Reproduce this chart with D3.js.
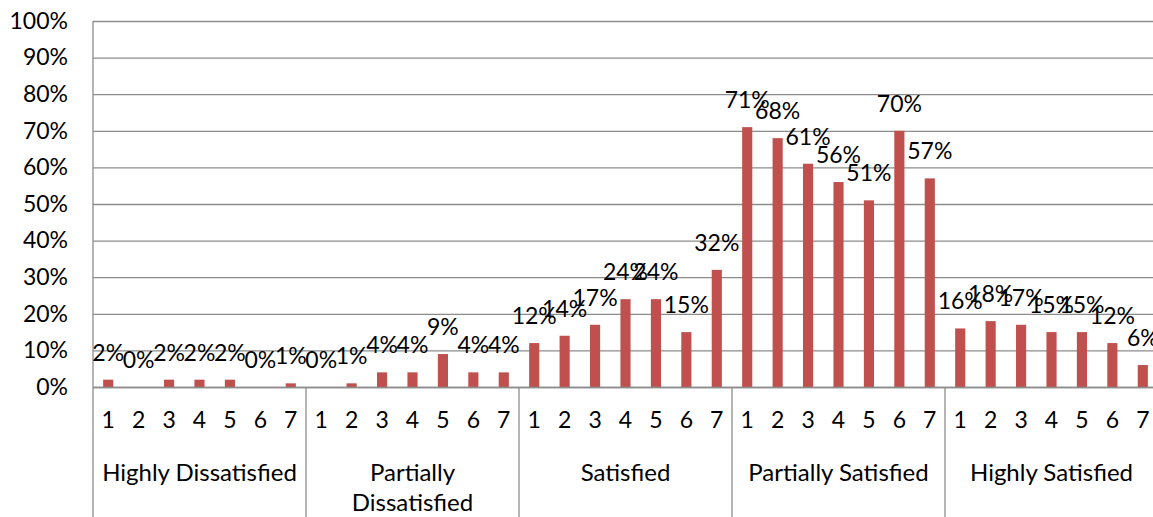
<!DOCTYPE html>
<html>
<head>
<meta charset="utf-8">
<script src="https://cdn.jsdelivr.net/npm/d3@7"></script>
<style>
  body { margin: 0; background: #fff; }
  text { font-family: Lato, "Open Sans", sans-serif; fill: #000; }
</style>
</head>
<body>
<div id="chart"></div>
<script>
// data
const groups = ['Highly Dissatisfied', 'Partially Dissatisfied', 'Satisfied', 'Partially Satisfied', 'Highly Satisfied']
const items = ['1', '2', '3', '4', '5', '6', '7']
const highlyDissatisfied = [2, 0, 2, 2, 2, 0, 1]
const partiallyDissatisfied = [0, 1, 4, 4, 9, 4, 4]
const satisfied = [12, 14, 17, 24, 24, 15, 32]
const partiallySatisfied = [71, 68, 61, 56, 51, 70, 57]
const highlySatisfied = [16, 18, 17, 15, 15, 12, 6]
const yTicks = [0, 10, 20, 30, 40, 50, 60, 70, 80, 90, 100]

const seriesByGroup = [highlyDissatisfied, partiallyDissatisfied, satisfied, partiallySatisfied, highlySatisfied]
const data = []
groups.forEach((g, gi) => {
    items.forEach((it, i) => {
        data.push({key: g + '|' + it, group: g, item: it, value: seriesByGroup[gi][i]})
    })
})

const W = 1153, H = 517
const m = {left: 93, top: 21}
const plotRight = 1158
const plotBottom = 387
const fs = 23

const svg = d3.select('#chart')
    .append('svg')
    .attr('width', W)
    .attr('height', H)

// scales
const xScale = d3.scaleBand()
    .domain(data.map(d => d.key))
    .range([m.left, plotRight])
    .paddingInner(0.667)
    .paddingOuter(0.333)

const gScale = d3.scaleBand()
    .domain(groups)
    .range([m.left, plotRight])
    .padding(0)

const yScale = d3.scaleLinear()
    .domain([0, 100])
    .range([plotBottom, m.top])

const lineColor = '#8c8c8c'

// gridlines
svg.append('g')
    .attr('transform', `translate(${m.left}, 0)`)
    .call(d3.axisLeft(yScale).tickValues(yTicks).tickSize(-(plotRight - m.left)).tickFormat(''))
    .call(g => g.select('.domain').remove())
    .call(g => g.selectAll('line').attr('stroke', lineColor).attr('stroke-width', 1.3))

// y labels
svg.append('g')
    .attr('transform', `translate(${m.left}, 0)`)
    .call(d3.axisLeft(yScale).tickValues(yTicks).tickSize(0).tickPadding(25).tickFormat(d => d + '%'))
    .call(g => g.select('.domain').remove())
    .call(g => g.selectAll('text').attr('font-size', fs).attr('font-family', 'Lato, sans-serif'))

// vertical group dividers + left axis line
const dividers = groups.map(g => gScale(g))
svg.append('line')
    .attr('x1', m.left).attr('x2', m.left)
    .attr('y1', m.top).attr('y2', H)
    .attr('stroke', lineColor).attr('stroke-width', 1.3)
svg.selectAll('.divider')
    .data(dividers.slice(1)).enter()
    .append('line')
    .attr('x1', d => d).attr('x2', d => d)
    .attr('y1', plotBottom).attr('y2', H)
    .attr('stroke', lineColor).attr('stroke-width', 1.3)

// bars
svg.selectAll('rect.bar')
    .data(data).enter()
    .append('rect')
    .attr('class', 'bar')
    .attr('x', d => xScale(d.key))
    .attr('y', d => yScale(d.value))
    .attr('width', xScale.bandwidth())
    .attr('height', d => plotBottom - yScale(d.value))
    .attr('fill', '#C0504D')

// x axis (item numbers)
svg.append('g')
    .attr('transform', `translate(0, ${plotBottom})`)
    .call(d3.axisBottom(xScale).tickSize(0).tickPadding(25).tickFormat(k => k.split('|')[1]))
    .call(g => g.select('.domain').attr('stroke', lineColor).attr('stroke-width', 1.3))
    .call(g => g.selectAll('text').attr('font-size', fs).attr('font-family', 'Lato, sans-serif'))

// group labels
const gl = svg.selectAll('text.group')
    .data(groups).enter()
    .append('text')
    .attr('class', 'group')
    .attr('x', d => gScale(d) + gScale.bandwidth() / 2)
    .attr('y', 481)
    .attr('text-anchor', 'middle')
    .attr('font-size', 24)
gl.each(function(d) {
    const t = d3.select(this)
    if (d === 'Partially Dissatisfied') {
        t.append('tspan').attr('x', gScale(d) + gScale.bandwidth() / 2).text('Partially')
        t.append('tspan').attr('x', gScale(d) + gScale.bandwidth() / 2).attr('dy', 30).text('Dissatisfied')
    } else {
        t.text(d)
    }
})

// data labels
svg.selectAll('text.lbl')
    .data(data).enter()
    .append('text')
    .attr('class', 'lbl')
    .attr('x', d => xScale(d.key) + xScale.bandwidth() / 2)
    .attr('y', d => yScale(d.value) - 19)
    .attr('text-anchor', 'middle')
    .attr('font-size', fs)
    .text(d => d.value + '%')
</script>
</body>
</html>
